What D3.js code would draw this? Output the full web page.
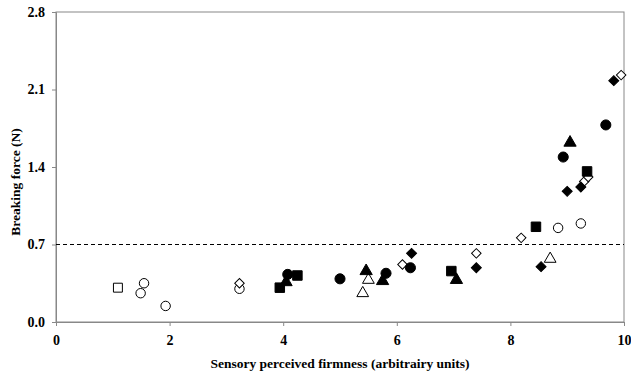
<!DOCTYPE html>
<html>
<head>
<meta charset="utf-8">
<script src="https://cdn.jsdelivr.net/npm/d3@7"></script>
<style>
body{margin:0;background:#fff}
text{font-family:"Liberation Serif","Times New Roman",serif;font-weight:bold}
</style>
</head>
<body>
<div id="container"></div>
<script>
// points, [firmness, force]
var openSquare = [[1.09,0.31]]
var openCircle = [[1.55,0.35],[1.49,0.26],[1.93,0.145],[3.23,0.30],[8.84,0.85],[9.24,0.89]]
var openDiamond = [[3.23,0.35],[6.10,0.52],[7.40,0.62],[8.19,0.76],[9.30,1.27],[9.37,1.31],[9.95,2.23]]
var openTriangle = [[5.40,0.26],[5.50,0.38],[8.70,0.57]]
var filledSquare = [[3.94,0.31],[4.25,0.42],[6.96,0.46],[8.45,0.86],[9.35,1.36]]
var filledCircle = [[4.08,0.43],[5.00,0.39],[5.81,0.44],[6.24,0.49],[8.93,1.49],[9.68,1.78]]
var filledDiamond = [[6.26,0.62],[7.40,0.49],[8.54,0.50],[9.00,1.18],[9.24,1.22],[9.82,2.18]]
var filledTriangle = [[4.05,0.36],[5.46,0.46],[5.75,0.37],[7.05,0.38],[9.05,1.62]]
var xTicks = [0,2,4,6,8,10]
var yTicks = [0,0.7,1.4,2.1,2.8]
var threshold = 0.7

var svg = d3.select("#container").append("svg").attr("width",631).attr("height",375)

var xScale = d3.scaleLinear().domain([0,10]).range([56,624])
var yScale = d3.scaleLinear().domain([0,2.8]).range([322,12])

// frame
svg.append("rect")
    .attr("x",xScale(0)).attr("y",yScale(2.8))
    .attr("width",xScale(10)-xScale(0)).attr("height",yScale(0)-yScale(2.8))
    .attr("fill","none").attr("stroke","#888").attr("stroke-width",1)

var xAxis = svg.append("g").attr("transform","translate(0,"+yScale(0)+")")
    .call(d3.axisBottom(xScale).tickValues(xTicks).tickSize(4).tickPadding(9).tickFormat(d3.format("d")))
var yAxis = svg.append("g").attr("transform","translate("+xScale(0)+",0)")
    .call(d3.axisLeft(yScale).tickValues(yTicks).tickSize(4).tickPadding(7).tickFormat(d3.format(".1f")))

svg.selectAll(".domain").attr("stroke","#888")
svg.selectAll(".tick line").attr("stroke","#888")
svg.selectAll(".tick text").attr("font-size",14).attr("fill","#000")
    .attr("font-family","Liberation Serif").attr("font-weight","bold")

// dashed threshold
svg.append("line")
    .attr("x1",xScale(0)).attr("x2",xScale(10))
    .attr("y1",yScale(threshold)).attr("y2",yScale(threshold))
    .attr("stroke","#000").attr("stroke-width",1).attr("stroke-dasharray","4,3")

function drawSet(data, type, size, filled, rot){
    svg.selectAll(null).data(data).enter().append("path")
        .attr("d",d3.symbol().type(type).size(size))
        .attr("transform",function(d){
            return "translate("+xScale(d[0])+","+yScale(d[1])+")"+(rot?" rotate(45)":"")
        })
        .attr("fill",filled?"#000":"#fff")
        .attr("stroke","#000")
        .attr("stroke-width",1)
}

drawSet(openSquare,d3.symbolSquare,80,false)
drawSet(openCircle,d3.symbolCircle,70,false)
drawSet(openDiamond,d3.symbolSquare,45,false,true)
drawSet(openTriangle,d3.symbolTriangle,60,false)
drawSet(filledSquare,d3.symbolSquare,90,true)
drawSet(filledCircle,d3.symbolCircle,80,true)
drawSet(filledDiamond,d3.symbolSquare,50,true,true)
drawSet(filledTriangle,d3.symbolTriangle,65,true)

svg.append("text")
    .attr("x",340).attr("y",368)
    .attr("text-anchor","middle").attr("font-size",13.5)
    .text("Sensory perceived firmness (arbitrairy units)")

svg.append("text")
    .attr("transform","translate(20,182) rotate(-90)")
    .attr("text-anchor","middle").attr("font-size",13.5)
    .text("Breaking force (N)")
</script>
</body>
</html>
